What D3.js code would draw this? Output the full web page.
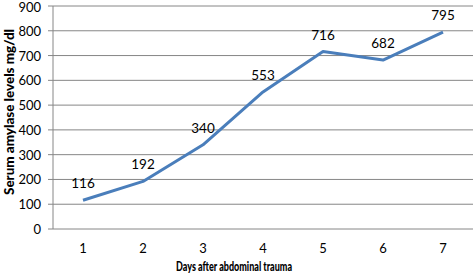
<!doctype html>
<html>
<head>
<script src="https://d3js.org/d3.v7.min.js"></script>
<style>
  body { margin: 0; background: #fff; }
  text { font-family: Lato, "Open Sans", sans-serif; fill: #000; }
</style>
</head>
<body>
<svg id="chart" width="473" height="274"></svg>
<script>
const days = ["1", "2", "3", "4", "5", "6", "7"];
const amylase = [116, 192, 340, 553, 716, 682, 795];
const yTicks = [0, 100, 200, 300, 400, 500, 600, 700, 800, 900];

const PLOT_LEFT = 53, PLOT_RIGHT = 473, PLOT_TOP = 6, PLOT_BOTTOM = 229;
const svg = d3.select("#chart");

const x = d3.scaleBand().domain(days).range([PLOT_LEFT, PLOT_RIGHT]);
const y = d3.scaleLinear().domain([0, 900]).range([PLOT_BOTTOM, PLOT_TOP]);

// gridlines
svg.append("g").selectAll("line").data(yTicks).enter().append("line")
  .attr("x1", PLOT_LEFT - 5).attr("x2", PLOT_RIGHT)
  .attr("y1", d => y(d)).attr("y2", d => y(d))
  .attr("stroke", "#868686").attr("stroke-width", 1);

// left axis line
svg.append("line").attr("x1", PLOT_LEFT).attr("x2", PLOT_LEFT)
  .attr("y1", y(900)).attr("y2", y(0))
  .attr("stroke", "#868686");

// y tick labels (top one nudged so it is not clipped)
svg.append("g").selectAll("text").data(yTicks).enter().append("text")
  .attr("x", 41).attr("y", d => Math.max(y(d) + 5, 12))
  .attr("text-anchor", "end").attr("font-size", 13)
  .text(d => d);

// x tick labels
svg.append("g").selectAll("text").data(days).enter().append("text")
  .attr("x", d => x(d) + x.bandwidth() / 2).attr("y", 253)
  .attr("text-anchor", "middle").attr("font-size", 13)
  .text(d => d);

// line
const line = d3.line()
  .x((d, i) => x(days[i]) + x.bandwidth() / 2)
  .y(d => y(d));
svg.append("path").datum(amylase)
  .attr("d", line).attr("fill", "none")
  .attr("stroke", "#4a7ebb").attr("stroke-width", 3)
  .attr("stroke-linejoin", "round");

// data labels
svg.append("g").selectAll("text").data(amylase).enter().append("text")
  .attr("x", (d, i) => x(days[i]) + x.bandwidth() / 2)
  .attr("y", d => y(d) - 12)
  .attr("text-anchor", "middle").attr("font-size", 13.5)
  .text(d => d);

// axis titles
svg.append("text")
  .attr("x", 234).attr("y", 271)
  .attr("text-anchor", "middle").attr("font-size", 13).attr("font-weight", 900)
  .attr("textLength", 116).attr("lengthAdjust", "spacingAndGlyphs")
  .text("Days after abdominal trauma");

svg.append("text")
  .attr("transform", "translate(14,112) rotate(-90)")
  .attr("text-anchor", "middle").attr("font-size", 13).attr("font-weight", 900)
  .attr("textLength", 166).attr("lengthAdjust", "spacingAndGlyphs")
  .text("Serum amylase levels mg/dl");
</script>
</body>
</html>
